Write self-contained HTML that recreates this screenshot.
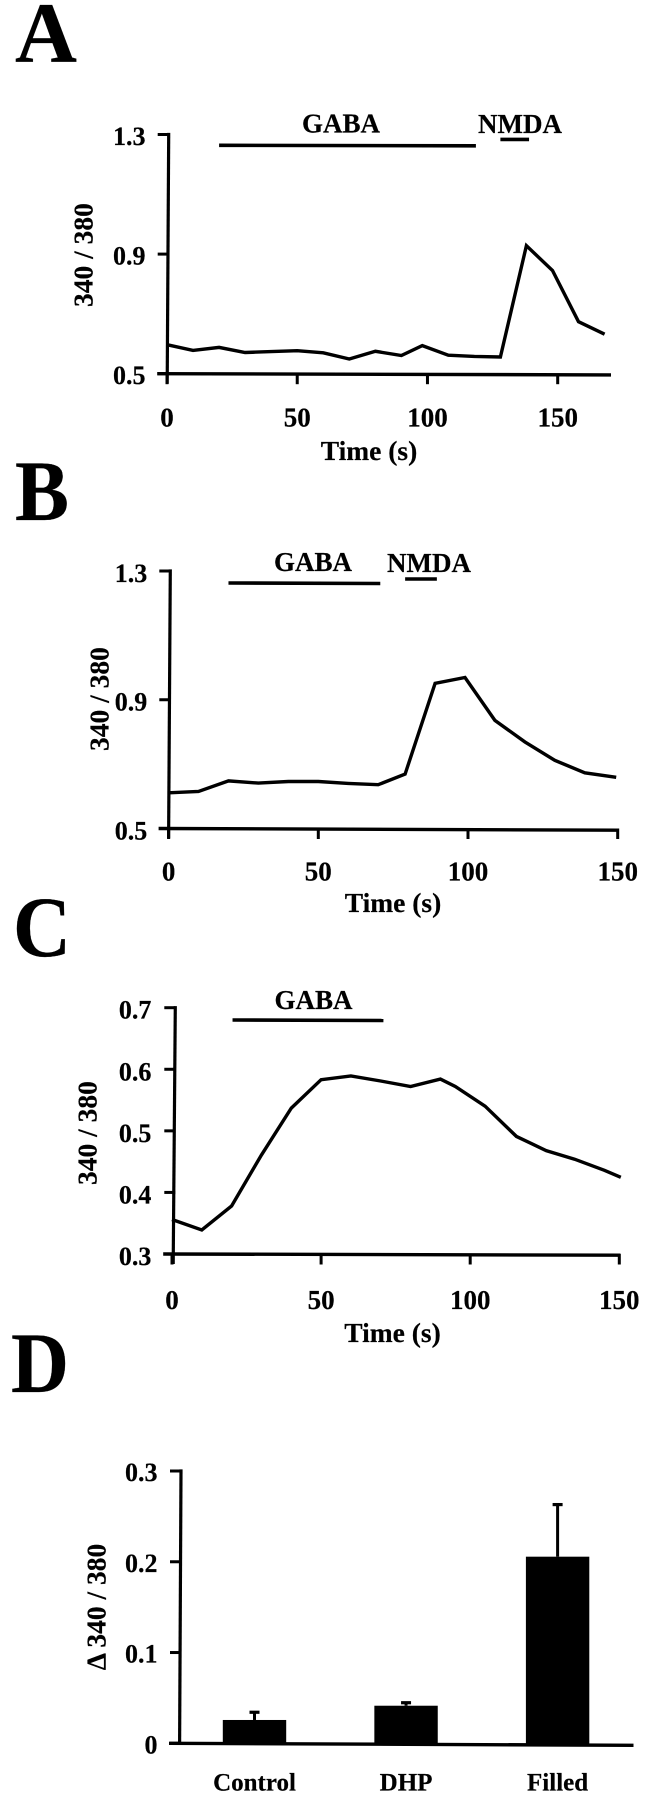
<!DOCTYPE html>
<html lang="en">
<head>
<meta charset="utf-8">
<title>Calcium ratio responses to GABA and NMDA</title>
<style>
  html, body { margin: 0; padding: 0; background: #fff; }
  svg { display: block; filter: blur(0.3px); }
  text { font-family: "Liberation Serif", "DejaVu Serif", serif; font-weight: bold; fill: #000; stroke: #000; stroke-width: 0.2px; }
</style>
</head>
<body>
<svg id="figure" xmlns="http://www.w3.org/2000/svg" width="648" height="1800" viewBox="0 0 648 1800"></svg>
<script>
// Panel A data
const aTimes = [0,10,20,30,40,50,60,70,80,90,98,108,118,128,138,148,158,168];
const aRatios = [0.597,0.578,0.588,0.571,0.574,0.577,0.570,0.549,0.575,0.561,0.594,0.562,0.558,0.556,0.928,0.845,0.674,0.632];
const aYTicks = ["0.5","0.9","1.3"];
const aXTicks = ["0","50","100","150"];
const aGabaPeriod = [20,118.6];
const aNmdaPeriod = [128,139];

// Panel B data
const bTimes = [0,10,20,30,40,50,60,70,79,89,99,109,119,129,139,149.5];
const bRatios = [0.611,0.615,0.648,0.641,0.646,0.646,0.640,0.636,0.669,0.951,0.969,0.836,0.769,0.712,0.673,0.659];
const bYTicks = ["0.5","0.9","1.3"];
const bXTicks = ["0","50","100","150"];
const bGabaPeriod = [20,70.7];
const bNmdaPeriod = [79,89.6];

// Panel C data
const cTimes = [0,10,20,30,40,50,60,70,80,90,95,105,115.5,125.5,135,145,150.5];
const cRatios = [0.356,0.339,0.378,0.461,0.537,0.583,0.589,0.581,0.572,0.584,0.572,0.540,0.491,0.468,0.454,0.436,0.4245];
const cYTicks = ["0.3","0.4","0.5","0.6","0.7"];
const cXTicks = ["0","50","100","150"];
const cGabaPeriod = [20.3,70.9];

// Panel D data
const dCategories = ["Control","DHP","Filled"];
const dMeans = [0.0257,0.0414,0.2056];
const dErrorTops = [0.0342,0.0447,0.263];
const dYTicks = ["0","0.1","0.2","0.3"];

const svg = document.getElementById('figure');
const NS = 'http://www.w3.org/2000/svg';

function mk(tag, name, attrs, txt) {
  const el = document.createElementNS(NS, tag);
  
  
  for (const k in attrs) el.setAttribute(k, attrs[k]);
  if (txt !== undefined) el.textContent = txt;
  svg.appendChild(el);
  return el;
}
function line(name, x1, y1, x2, y2, w) {
  return mk('line', name, {x1:x1, y1:y1, x2:x2, y2:y2, stroke:'#000', 'stroke-width':w});
}
function label(name, x, y, size, anchor, str) {
  return mk('text', name, {x:x, y:y, 'font-size':size, 'text-anchor':anchor}, str);
}
function rotLabel(name, x, y, size, str) {
  return mk('text', name, {x:x, y:y, 'font-size':size, 'text-anchor':'middle', transform:'rotate(-90 '+x+' '+y+')'}, str);
}
function letter(id, x, y, len) {
  return mk('text', 'panel-letter-' + id, {x:x, y:y, 'font-size':86, textLength:len, lengthAdjust:'spacingAndGlyphs'}, id.toUpperCase());
}
function scale(d0, d1, r0, r1) {
  return function (v) { return r0 + (v - d0) * (r1 - r0) / (d1 - d0); };
}

function linePanel(p) {
  const x = scale(p.xDomain[0], p.xDomain[1], p.xRange[0], p.xRange[1]);
  const y = scale(p.yDomain[0], p.yDomain[1], p.yRange[0], p.yRange[1]);
  const y0 = y(p.yDomain[0]);
  const yTop = y(p.yDomain[1]);

  letter(p.id, p.letterX, p.letterY, p.letterLen);

  line(p.id + '-y-axis', p.axisXTop, yTop - 1.6, p.axisXBottom, y0 + 10, 3.2);
  line(p.id + '-x-axis', p.axisXBottom - 10, y0, p.xEnd, y0 + p.xTilt, 3.4);

  p.yTicks.forEach(function (t) {
    const v = parseFloat(t);
    line(p.id + '-y-tick-' + t, p.axisXTop - 11, y(v), p.axisXTop, y(v), 3);
    label(p.id + '-y-tick-label-' + t, p.yLabelRight, y(v) + p.yLabelDy, 26, 'end', t);
  });
  p.xTicks.forEach(function (t) {
    const v = parseFloat(t);
    mk('rect', p.id + '-x-tick-' + t, {x:x(v) - 1.5, y:y0, width:3, height:10.5, fill:'#000'});
    label(p.id + '-x-tick-label-' + t, x(v), p.xLabelY, 27, 'middle', t);
  });

  label(p.id + '-x-axis-title', p.xTitleX, p.xTitleY, 27.5, 'middle', 'Time (s)');
  rotLabel(p.id + '-y-axis-title', p.yTitleX, p.yTitleY, 27.5, '340 / 380');

  const pts = p.times.map(function (t, i) {
    return x(t).toFixed(1) + ',' + y(p.ratios[i]).toFixed(1);
  }).join(' ');
  mk('polyline', p.id + '-ratio-trace', {points:pts, fill:'none', stroke:'#000', 'stroke-width':3.4, 'stroke-linejoin':'miter'});

  line(p.id + '-gaba-bar', x(p.gaba[0]), p.gabaBarY, x(p.gaba[1]), p.gabaBarY + 0.5, 3.6);
  label(p.id + '-gaba-label', p.gabaLabelX, p.gabaLabelY, 27, 'middle', 'GABA');
  if (p.nmda) {
    line(p.id + '-nmda-bar', x(p.nmda[0]), p.nmdaBarY, x(p.nmda[1]), p.nmdaBarY, 3.6);
    label(p.id + '-nmda-label', p.nmdaLabelX, p.gabaLabelY + 0.8, 27, 'middle', 'NMDA');
  }
}

linePanel({
  id:'a', times:aTimes, ratios:aRatios, yTicks:aYTicks, xTicks:aXTicks, gaba:aGabaPeriod, nmda:aNmdaPeriod,
  xDomain:[0,150], xRange:[167,557.7], yDomain:[0.5,1.3], yRange:[373.7,134.5],
  axisXTop:168.7, axisXBottom:167.2, xEnd:611, xTilt:1.2, letterX:15, letterY:62, letterLen:62,
  yLabelRight:145.5, yLabelDy:10.5, xLabelY:426.3,
  xTitleX:369, xTitleY:460, yTitleX:92.6, yTitleY:255,
  gabaBarY:145.3, nmdaBarY:139.4, gabaLabelX:341, nmdaLabelX:520, gabaLabelY:132.3
});
linePanel({
  id:'b', times:bTimes, ratios:bRatios, yTicks:bYTicks, xTicks:bXTicks, gaba:bGabaPeriod, nmda:bNmdaPeriod,
  xDomain:[0,150], xRange:[168.6,617.7], yDomain:[0.5,1.3], yRange:[828.5,571],
  axisXTop:170.3, axisXBottom:168.6, xEnd:619, xTilt:1.7, letterX:15, letterY:520, letterLen:54,
  yLabelRight:147.3, yLabelDy:10.8, xLabelY:880.3,
  xTitleX:393, xTitleY:912, yTitleX:108.3, yTitleY:699,
  gabaBarY:583, nmdaBarY:579, gabaLabelX:313, nmdaLabelX:429, gabaLabelY:571
});
linePanel({
  id:'c', times:cTimes, ratios:cRatios, yTicks:cYTicks, xTicks:cXTicks, gaba:cGabaPeriod,
  xDomain:[0,150], xRange:[172,619.3], yDomain:[0.3,0.7], yRange:[1254,1007.7],
  axisXTop:175.3, axisXBottom:173.2, xEnd:620.5, xTilt:1.2, letterX:13, letterY:956, letterLen:58,
  yLabelRight:151.4, yLabelDy:11, xLabelY:1309,
  xTitleX:392.5, xTitleY:1342, yTitleX:96.3, yTitleY:1133,
  gabaBarY:1020, gabaLabelX:313.5, gabaLabelY:1009
});

(function barPanel() {
  const y = scale(0, 0.3, 1743.3, 1471);
  const barCenter = scale(0, 2, 254.5, 557.6);
  const barWidth = 63.4;
  const axisTop = 181;
  const axisBottom = 179.6;

  letter('d', 11, 1392, 58);
  line('d-y-axis', axisTop, y(0.3) - 1.6, axisBottom, y(0) + 1, 3.2);
  line('d-x-axis', 169, y(0), 633.5, y(0) + 2, 3.4);

  dYTicks.forEach(function (t) {
    const v = parseFloat(t);
    line('d-y-tick-' + t, axisTop - 11, y(v), axisTop, y(v), 3);
    label('d-y-tick-label-' + t, 157.5, y(v) + 10, 26, 'end', t);
  });

  dCategories.forEach(function (c, i) {
    const cx = barCenter(i);
    const key = c.toLowerCase();
    line('d-error-bar-' + key, cx, y(dErrorTops[i]), cx, y(dMeans[i]), 3);
    line('d-error-cap-' + key, cx - 5, y(dErrorTops[i]), cx + 5, y(dErrorTops[i]), 3.2);
    mk('rect', 'd-bar-' + key, {x:cx - barWidth / 2, y:y(dMeans[i]), width:barWidth, height:y(0) - y(dMeans[i]) + 1, fill:'#000'});
    label('d-category-label-' + key, cx, 1790.5, 25, 'middle', c);
  });

  rotLabel('d-y-axis-title', 105.4, 1607, 27.5, '\u0394 340 / 380');
})();
</script>
</body>
</html>
